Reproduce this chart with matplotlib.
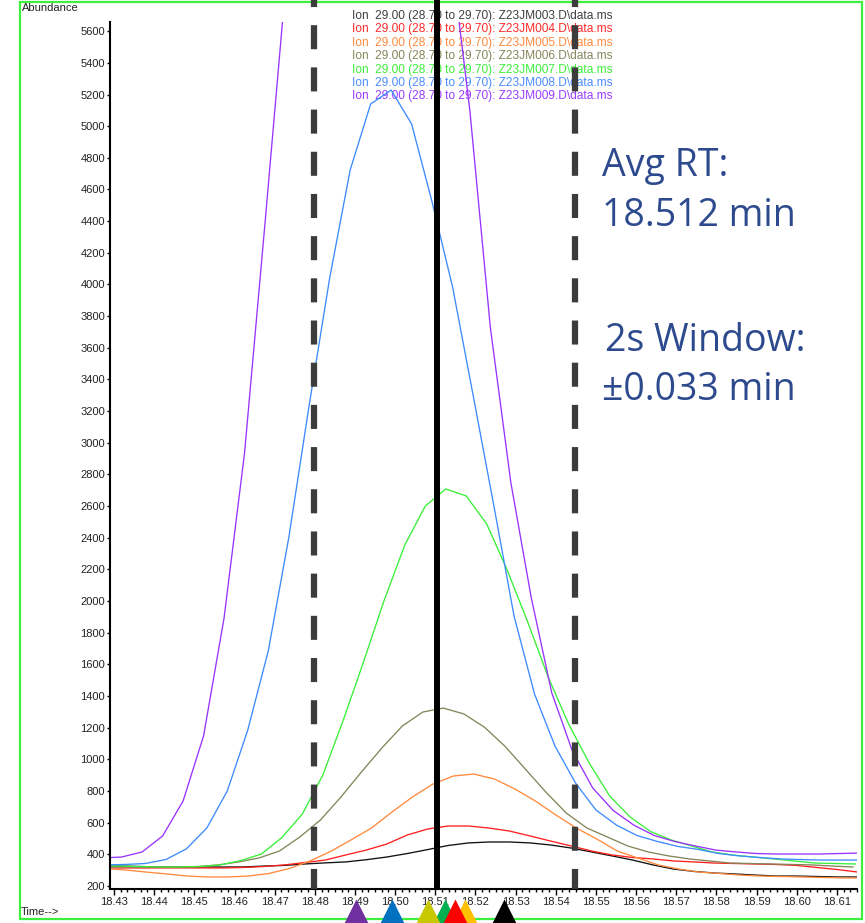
import numpy as np
import matplotlib
matplotlib.use("Agg")
import matplotlib.pyplot as plt
from matplotlib.ticker import MultipleLocator, FormatStrFormatter
from matplotlib.patches import Rectangle

# ── data (abundance per scan, each file has its own first scan time) ──────────
dt = 0.0051
samples = ["Z23JM003", "Z23JM004", "Z23JM005", "Z23JM006",
           "Z23JM007", "Z23JM008", "Z23JM009"]
t0 = [18.4265, 18.4265, 18.4278, 18.4253, 18.4259, 18.4276, 18.4268]

jm003 = [326, 326, 323, 320, 320, 320, 320, 320, 326, 330, 339, 346, 352, 366,
         383, 405, 430, 456, 472, 478, 478, 472, 459, 440, 415, 390, 364, 333,
         307, 292, 282, 276, 269, 263, 263, 260, 257, 257]
jm004 = [314, 314, 314, 314, 314, 314, 314, 317, 323, 333, 348, 364, 396, 427,
         465, 522, 560, 579, 579, 566, 547, 516, 484, 453, 421, 396, 380, 371,
         358, 352, 345, 342, 339, 336, 330, 317, 304, 288]
jm005 = [310, 301, 288, 276, 263, 257, 257, 263, 279, 311, 358, 418, 491, 566,
         667, 762, 844, 895, 907, 876, 813, 737, 649, 566, 497, 421, 377, 333,
         307, 288, 279, 269, 263, 260, 257, 254, 251, 251]
jm006 = [320, 320, 320, 320, 320, 323, 333, 352, 377, 421, 510, 617, 762, 920,
         1072, 1211, 1299, 1324, 1287, 1204, 1084, 939, 794, 661, 567, 510, 453,
         415, 390, 371, 358, 345, 342, 339, 336, 333, 326, 320]
jm007 = [326, 326, 323, 320, 320, 323, 333, 361, 402, 506, 655, 901, 1249, 1621,
         2007, 2354, 2600, 2708, 2664, 2487, 2196, 1868, 1520, 1223, 978, 769,
         636, 544, 491, 453, 415, 396, 383, 371, 358, 345, 342, 339]
jm008 = [333, 336, 342, 367, 434, 566, 800, 1185, 1684, 2398, 3238, 4041, 4723,
         5140, 5228, 5014, 4521, 3984, 3302, 2613, 1906, 1413, 1084, 851, 680,
         585, 519, 481, 450, 431, 405, 390, 380, 371, 367, 364, 364, 364]
jm009 = [377, 383, 415, 516, 737, 1148, 1893, 2935, 4388, 5879, 7300, 8300,
         8800, 8900, 8600, 7900, 7000, 6163, 5100, 3730, 2750, 2020, 1420, 1055,
         819, 677, 585, 519, 481, 453, 427, 415, 405, 402, 402, 402, 405, 408]
series = [jm003, jm004, jm005, jm006, jm007, jm008, jm009]

# retention time markers placed under the axis (one per sample)
rt_marks = [18.5271, 18.5149, 18.5174, 18.5082, 18.5124, 18.4991, 18.4902]

avg_rt_line = 18.5103
window_lines = [18.4797, 18.5448]

line_colors = ["#111111", "#ff1f1f", "#ff8a3d", "#85855a",
               "#38f038", "#3d8bff", "#9933ff"]
text_colors = ["#404040", "#ff2a2a", "#ff8a3d", "#85855a",
               "#3cf03c", "#4c8cff", "#9a3dff"]
marker_colors = ["#000000", "#ff0000", "#ffc000", "#c8c800",
                 "#00b050", "#0070c0", "#7030a0"]

W, H = 865, 923
def fx(px):
    return px / W
def fy(py):
    return 1 - py / H

fig = plt.figure(figsize=(W / 100, H / 100), dpi=100)
ax = fig.add_axes([fx(110), fy(889), (857 - 110) / W, (889 - 22) / H])

for vals, start, col in zip(series, t0, line_colors):
    t = start + dt * np.arange(len(vals))
    ax.plot(t, vals, color=col, lw=0.95, zorder=2)

ax.set_xlim(18.429, 18.615)
ax.set_ylim(181, 5658)
ax.set_yticks(np.arange(200, 5601, 200))
ax.set_xticks(np.arange(18.43, 18.6151, 0.01))
ax.xaxis.set_major_formatter(FormatStrFormatter("%.2f"))
ax.xaxis.set_minor_locator(MultipleLocator(0.01 / 6))
for s in ["top", "right"]:
    ax.spines[s].set_visible(False)
for s in ["left", "bottom"]:
    ax.spines[s].set_linewidth(1.5)
ax.tick_params(axis="y", length=2.5, width=1, pad=1, labelsize=8,
               labelcolor="#222222")
ax.tick_params(axis="x", which="major", length=4.5, width=1, pad=1.5,
               labelsize=8, labelcolor="#222222")
ax.tick_params(axis="x", which="minor", length=2.5, width=1)
for lab in ax.get_xticklabels() + ax.get_yticklabels():
    lab.set_fontfamily("Liberation Sans")

# vertical markers: solid average RT and dashed window, drawn up to figure top
top = 1 + 22 / 867
xt = ax.get_xaxis_transform()
ax.plot([avg_rt_line, avg_rt_line], [0, top], transform=xt, color="black",
        lw=4.3, clip_on=False, zorder=5, solid_capstyle="butt")
for x in window_lines:
    ax.plot([x, x], [top, 0], transform=xt, color="#3c3c3c", lw=4.5,
            linestyle=(2.72, (3.85, 2.9)), clip_on=False, zorder=5,
            dash_capstyle="butt")

# triangles under the axis
for x, c in zip(rt_marks[::-1], marker_colors[::-1]):
    ax.plot([x], [-0.0265], transform=xt, marker="^", ms=18.7, color=c,
            mec="none", clip_on=False, zorder=6)

# file list text (sits under the curves)
for i, (name, c) in enumerate(zip(samples, text_colors)):
    ax.text(fx(352), fy(16 + 13.4 * i),
            f"Ion  29.00 (28.70 to 29.70): {name}.D\\data.ms",
            transform=fig.transFigure, color=c, fontsize=8.6,
            family="Liberation Sans", va="center", ha="left",
            clip_on=False, zorder=1)

fig.text(fx(22), fy(8), "Abundance", fontsize=8, family="Liberation Sans",
         color="#222222", va="center")
fig.text(fx(21), fy(912), "Time-->", fontsize=8, family="Liberation Sans",
         color="#222222", va="center")

blue = "#2e4a8e"
fig.text(fx(602), fy(176), "Avg RT:", fontsize=27, family="Open Sans",
         color=blue, va="baseline")
fig.text(fx(602), fy(226), "18.512 min", fontsize=27, family="Open Sans",
         color=blue, va="baseline")
fig.text(fx(605), fy(351), "2s Window:", fontsize=27, family="Open Sans",
         color=blue, va="baseline")
fig.text(fx(602), fy(400), "\u00b10.033 min", fontsize=27, family="Open Sans",
         color=blue, va="baseline")

frame = Rectangle((fx(20), fy(919)), fx(862) - fx(20), fy(2) - fy(919),
                  transform=fig.transFigure, fill=False, ec="#3cf03c",
                  lw=1.6, zorder=-1)
fig.patches.append(frame)

fig.savefig("out.png", dpi=100)
